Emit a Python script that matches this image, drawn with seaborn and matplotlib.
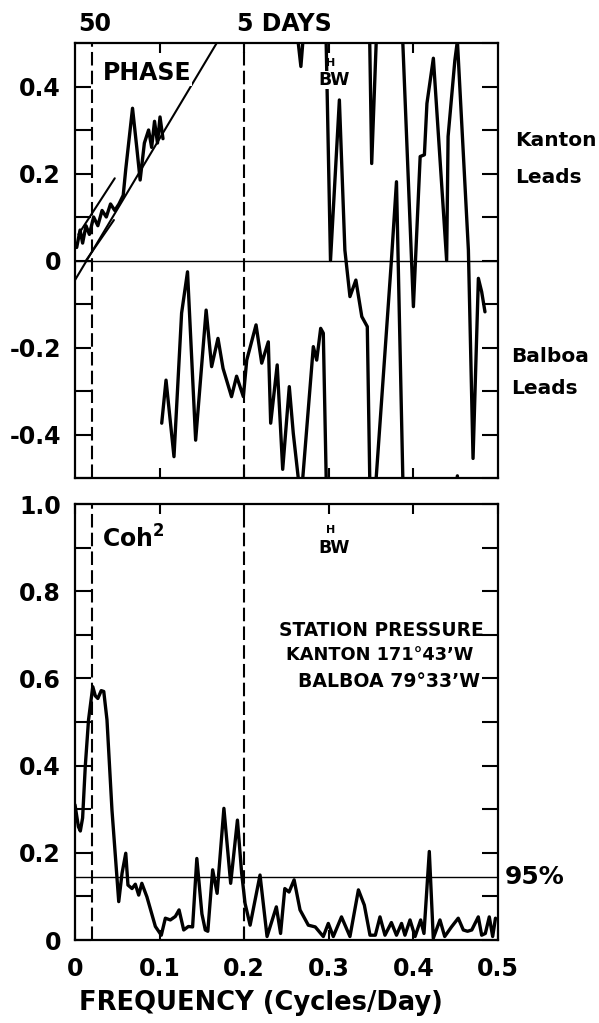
import numpy as np
import pandas as pd
import matplotlib
matplotlib.use("Agg")
import matplotlib.pyplot as plt
import seaborn as sns

sns.set_style("ticks")
plt.rcParams['font.family'] = ['DejaVu Sans']
plt.rcParams['font.weight'] = 'bold'
plt.rcParams['axes.unicode_minus'] = False
plt.rcParams['mathtext.fontset'] = 'dejavusans'
for k in ('text.color', 'axes.labelcolor', 'xtick.color', 'ytick.color', 'axes.edgecolor'):
    plt.rcParams[k] = 'black'

# ---------------- data ----------------
# phase, low-frequency segment (cycles)
phase_lo_freq = [0.002, 0.006, 0.009, 0.013, 0.017, 0.022, 0.027, 0.032, 0.037, 0.042,
                 0.047, 0.052, 0.057, 0.060, 0.064, 0.068, 0.073, 0.077, 0.082, 0.087,
                 0.0906, 0.094, 0.0975, 0.1005, 0.104]
phase_lo_val = [0.03, 0.07, 0.04, 0.08, 0.06, 0.10, 0.08, 0.115, 0.10, 0.13,
                0.115, 0.13, 0.15, 0.21, 0.28, 0.35, 0.26, 0.185, 0.27, 0.30,
                0.26, 0.32, 0.27, 0.33, 0.28]
# phase, higher-frequency segment (cycles, unwrapped; plotted modulo 1)
phase_hi_freq = [0.1025, 0.1076, 0.117, 0.126, 0.133, 0.1426, 0.155, 0.1615, 0.169, 0.175,
                 0.185, 0.191, 0.199, 0.203, 0.214, 0.2207, 0.2285, 0.2313, 0.239, 0.2455,
                 0.2533, 0.258, 0.267, 0.2817, 0.2857, 0.2904, 0.2935, 0.302, 0.3125, 0.319,
                 0.325, 0.332, 0.339, 0.3455, 0.3507, 0.356, 0.374, 0.380, 0.3875, 0.400,
                 0.408, 0.413, 0.416, 0.4236, 0.4393, 0.441, 0.449, 0.452, 0.465, 0.4705,
                 0.4768, 0.4807, 0.4846]
phase_hi_val = [-0.374, -0.275, -0.451, -0.121, -0.026, -0.413, -0.114, -0.244, -0.179, -0.248,
                -0.313, -0.266, -0.313, -0.229, -0.148, -0.236, -0.187, -0.374, -0.240, -0.48,
                -0.29, -0.397, -0.554, -0.198, -0.229, -0.156, -0.167, -1.0, -0.631, -0.976,
                -1.083, -1.045, -1.129, -1.152, -1.777, -1.5, -1.0, -0.819, -1.5, -2.106,
                -1.761, -1.757, -1.639, -1.535, -2.0, -1.715, -1.54, -1.495, -1.976, -2.455,
                -2.041, -2.072, -2.118]
# fitted phase line and its limits
fit_freq = [0.0, 0.17]
fit_phase = [-0.045, 0.508]
upper_freq = [0.004, 0.047]
upper_phase = [0.060, 0.189]
lower_freq = [0.013, 0.046]
lower_phase = [0.0, 0.093]

# squared coherence
coh_freq = [0.0, 0.004, 0.0063, 0.009, 0.0122, 0.016, 0.021, 0.024, 0.027, 0.031,
            0.034, 0.0378, 0.0437, 0.0517, 0.0556, 0.060, 0.0626, 0.0674, 0.0713, 0.0753,
            0.079, 0.085, 0.095, 0.102, 0.1068, 0.1127, 0.1186, 0.123, 0.1285, 0.134,
            0.139, 0.144, 0.150, 0.154, 0.157, 0.1627, 0.168, 0.176, 0.184, 0.192,
            0.197, 0.201, 0.207, 0.2187, 0.227, 0.238, 0.243, 0.248, 0.253, 0.259,
            0.266, 0.2758, 0.284, 0.2935, 0.2994, 0.3053, 0.315, 0.325, 0.335, 0.342,
            0.3487, 0.355, 0.3605, 0.3664, 0.374, 0.380, 0.386, 0.390, 0.396, 0.402,
            0.4086, 0.4125, 0.4188, 0.4235, 0.4314, 0.437, 0.445, 0.453, 0.459, 0.464,
            0.469, 0.4767, 0.4807, 0.485, 0.4897, 0.4937, 0.497]
coh_val = [0.31, 0.26, 0.25, 0.28, 0.40, 0.505, 0.581, 0.560, 0.554, 0.572,
           0.570, 0.505, 0.298, 0.088, 0.153, 0.199, 0.126, 0.118, 0.128, 0.103,
           0.13, 0.099, 0.031, 0.011, 0.05, 0.046, 0.054, 0.069, 0.023, 0.031,
           0.03, 0.187, 0.06, 0.023, 0.02, 0.161, 0.107, 0.302, 0.13, 0.275,
           0.153, 0.084, 0.034, 0.149, 0.008, 0.076, 0.015, 0.118, 0.11, 0.138,
           0.069, 0.034, 0.03, 0.008, 0.038, 0.008, 0.053, 0.008, 0.115, 0.08,
           0.011, 0.011, 0.053, 0.011, 0.04, 0.011, 0.038, 0.011, 0.046, 0.008,
           0.046, 0.015, 0.203, 0.004, 0.046, 0.008, 0.03, 0.05, 0.023, 0.02,
           0.023, 0.053, 0.011, 0.015, 0.053, 0.008, 0.05]
sig95 = 0.145
period_lines = [0.02, 0.2]
bw_freq = 0.3

# ---------------- figure ----------------
fig = plt.figure(figsize=(5.99, 10.23), dpi=100)
W, H = 599, 1023
ax1 = fig.add_axes([75 / W, 1 - 478 / H, 423 / W, 435 / H])
ax2 = fig.add_axes([75 / W, 1 - 940 / H, 423 / W, 436 / H])

LW = 2.4
FS = 17

# phase curves (unwrapped, drawn modulo 1, clipped to the frame)
rows = []
for sid, (fs, ps) in enumerate([(phase_lo_freq, phase_lo_val), (phase_hi_freq, phase_hi_val)]):
    for k in (0, 1, 2):
        for f, p in zip(fs, ps):
            rows.append(dict(freq=f, phase=p + k, unit=f"{sid}_{k}"))
dfp = pd.DataFrame(rows)
sns.lineplot(data=dfp, x="freq", y="phase", units="unit", estimator=None, sort=False,
             color="black", lw=LW, ax=ax1, legend=False)

lines = pd.DataFrame(dict(freq=fit_freq + upper_freq + lower_freq,
                          phase=fit_phase + upper_phase + lower_phase,
                          unit=["fit"] * 2 + ["up"] * 2 + ["lo"] * 2))
sns.lineplot(data=lines, x="freq", y="phase", units="unit", estimator=None, sort=False,
             color="black", lw=1.5, ax=ax1, legend=False)

ax1.axhline(0, color="black", lw=1.0)
for ax in (ax1, ax2):
    for f in period_lines:
        ax.axvline(f, color="black", lw=1.5, ls=(0, (6.5, 2.5)))

# coherence
dfc = pd.DataFrame(dict(freq=coh_freq, coh=coh_val))
sns.lineplot(data=dfc, x="freq", y="coh", estimator=None, sort=False,
             color="black", lw=LW, ax=ax2, legend=False)
ax2.axhline(sig95, color="black", lw=1.0)

# axes styling
ax1.set_xlim(0, 0.5)
ax1.set_ylim(-0.5, 0.5)
ax2.set_xlim(0, 0.5)
ax2.set_ylim(0, 1.0)
for ax in (ax1, ax2):
    ax.set_xlabel("")
    ax.set_ylabel("")
    for s in ax.spines.values():
        s.set_linewidth(1.6)
        s.set_color("black")
    ax.tick_params(axis="y", which="both", direction="in", left=True, right=True,
                   length=11.5, width=1.5, labelsize=FS, pad=10, colors="black")
    ax.tick_params(axis="x", which="both", direction="in", top=True, bottom=True,
                   length=7, width=1.5, labelsize=FS, pad=12, colors="black")

yt1 = np.round(np.arange(-0.5, 0.51, 0.1), 2)
ax1.set_yticks(yt1)
ax1.set_yticklabels(["" if abs(round(v * 10)) % 2 else ("0" if abs(v) < 1e-9 else f"{v:.1f}")
                     for v in yt1])
ax1.set_xticks([0.1, 0.2, 0.3, 0.4])
ax1.set_xticklabels([])

yt2 = np.round(np.arange(0, 1.01, 0.1), 2)
ax2.set_yticks(yt2)
ax2.set_yticklabels([("0" if v == 0 else f"{v:.1f}") if round(v * 10) % 2 == 0 else ""
                     for v in yt2])
ax2.set_xticks([0, 0.1, 0.2, 0.3, 0.4, 0.5])
ax2.set_xticklabels(["0", "0.1", "0.2", "0.3", "0.4", "0.5"])

# annotations
ax1.text(0.033, 0.43, "PHASE", fontsize=FS, fontweight="bold", va="center", ha="left",
         bbox=dict(facecolor="white", edgecolor="none", pad=0.5), zorder=5)
ax2.text(0.032, 0.92, r"Coh$^{\mathbf{2}}$", fontsize=FS, fontweight="bold", va="center", ha="left")

for ax, yh, yb in ((ax1, 0.455, 0.415), (ax2, 0.94, 0.90)):
    ax.text(bw_freq + 0.002, yh, "H", fontsize=8, fontweight="bold", ha="center", va="center",
            zorder=6)
    ax.text(bw_freq + 0.006, yb, "BW", fontsize=12.5, fontweight="bold", ha="center", va="center",
            bbox=dict(facecolor="white", edgecolor="none", pad=0.3), zorder=5)

ax1.text(0.0236, 1.044, "50", transform=ax1.get_xaxis_transform(), fontsize=FS,
         ha="center", va="center")
ax1.text(0.1915, 1.044, "5 DAYS", transform=ax1.get_xaxis_transform(), fontsize=FS,
         ha="left", va="center")

RFS = 14.5
ax1.text(1.04, 0.777, "Kanton", transform=ax1.transAxes, fontsize=RFS, ha="left", va="center")
ax1.text(1.04, 0.690, "Leads", transform=ax1.transAxes, fontsize=RFS, ha="left", va="center")
ax1.text(1.03, 0.280, "Balboa", transform=ax1.transAxes, fontsize=RFS, ha="left", va="center")
ax1.text(1.03, 0.205, "Leads", transform=ax1.transAxes, fontsize=RFS, ha="left", va="center")

ax2.text(1.017, sig95, "95%", transform=ax2.get_yaxis_transform(), fontsize=18,
         ha="left", va="center")

ax2.text(0.4835, 0.709, "STATION PRESSURE", fontsize=13.4, ha="right", va="center")
ax2.text(0.4705, 0.654, "KANTON 171°43’W", fontsize=12.8, ha="right", va="center")
ax2.text(0.479, 0.594, "BALBOA 79°33’W", fontsize=13.6, ha="right", va="center")

fig.text(261 / W, 1 - 1003 / H, "FREQUENCY (Cycles/Day)", fontsize=18.5, fontweight="bold",
         ha="center", va="center")

fig.savefig("out.png", dpi=100)
